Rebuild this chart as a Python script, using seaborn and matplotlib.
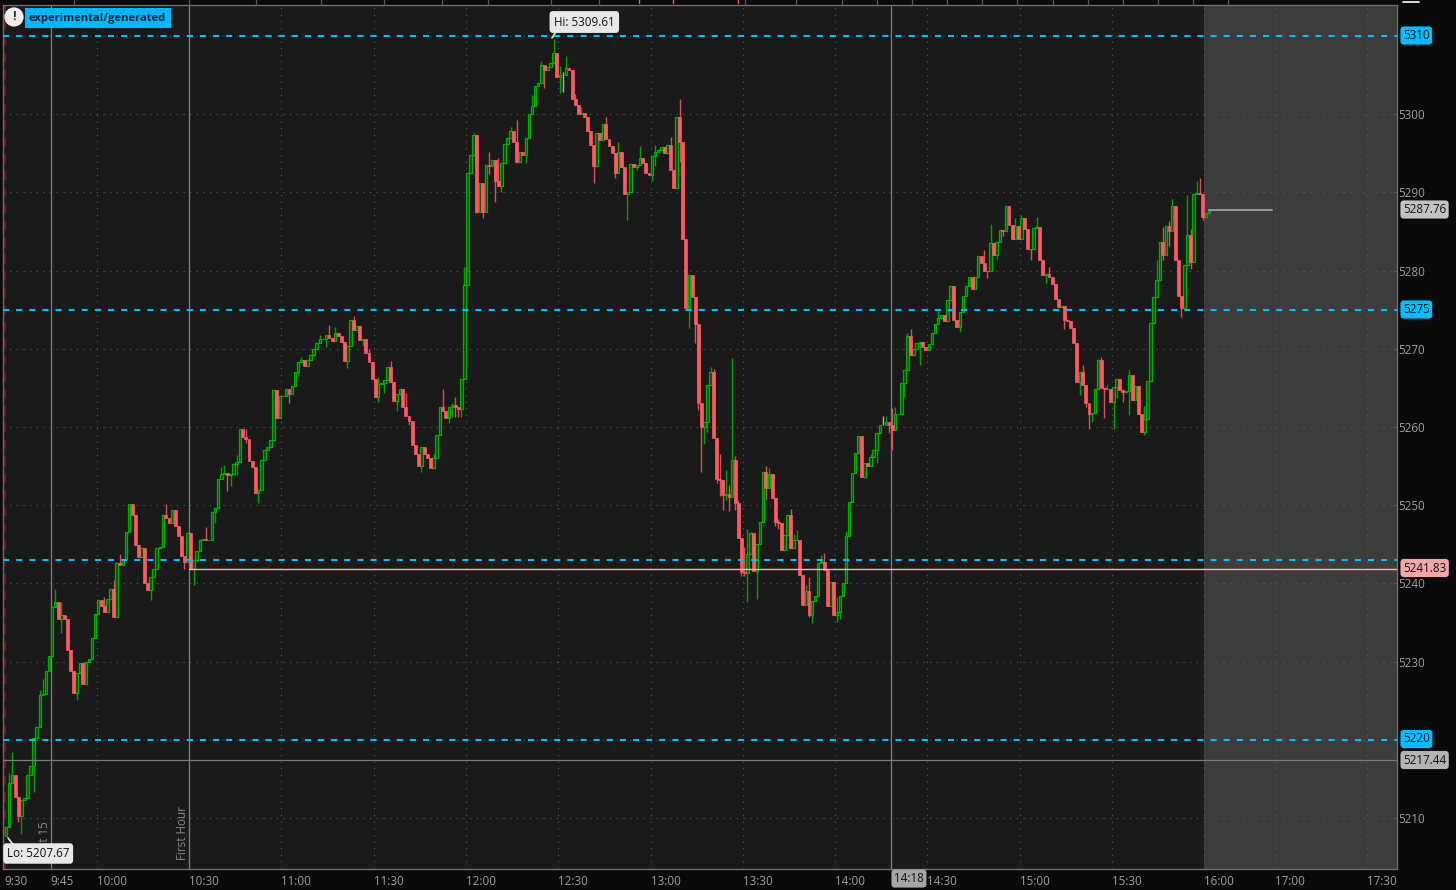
import numpy as np
import pandas as pd
import matplotlib
matplotlib.use('Agg')
import matplotlib.pyplot as plt
import seaborn as sns
from matplotlib.lines import Line2D

# Session candles (1 min bars, open = previous close)
first_open = 5207.67
closes = [
    5208.9, 5214.5, 5215.5, 5212.7, 5210.2, 5212.3, 5212.5, 5215.5, 5216.6, 5220.2,
    5221.6, 5225.7, 5225.8, 5228.8, 5230.7, 5237.0, 5237.6, 5235.4, 5236.0, 5235.5,
    5231.5, 5228.8, 5226.0, 5228.5, 5229.8, 5227.1, 5230.0, 5230.3, 5233.0, 5236.1,
    5237.9, 5237.1, 5236.4, 5238.0, 5239.3, 5235.7, 5242.6, 5242.4, 5243.1, 5246.6,
    5250.1, 5248.7, 5244.9, 5243.4, 5244.5, 5240.0, 5239.2, 5240.8, 5241.9, 5244.5,
    5244.6, 5248.7, 5248.3, 5247.7, 5249.4, 5247.3, 5246.0, 5243.5, 5242.8, 5246.5,
    5241.8, 5243.0, 5244.2, 5245.5, 5245.7, 5245.5, 5245.6, 5249.1, 5249.6, 5253.3,
    5254.0, 5254.1, 5253.9, 5254.0, 5255.3, 5255.5, 5259.7, 5258.7, 5258.5, 5255.7,
    5254.9, 5251.6, 5252.0, 5255.8, 5257.0, 5257.4, 5258.3, 5264.7, 5261.1, 5263.9,
    5264.0, 5264.9, 5264.2, 5265.2, 5267.0, 5268.3, 5268.6, 5267.8, 5268.6, 5269.2,
    5270.0, 5270.7, 5271.2, 5271.3, 5271.7, 5271.4, 5271.0, 5272.0, 5271.6, 5270.9,
    5268.4, 5270.4, 5273.7, 5272.4, 5272.9, 5271.1, 5271.2, 5269.4, 5268.3, 5266.2,
    5263.8, 5265.5, 5265.6, 5266.0, 5267.7, 5265.8, 5263.3, 5264.2, 5264.9, 5262.6,
    5261.4, 5260.8, 5257.7, 5256.5, 5255.0, 5257.5, 5256.5, 5256.0, 5254.7, 5256.0,
    5259.0, 5262.6, 5262.0, 5261.2, 5262.6, 5262.8, 5262.5, 5262.3, 5266.2, 5278.2,
    5292.5, 5294.8, 5297.3, 5287.5, 5291.2, 5287.5, 5293.5, 5293.4, 5294.1, 5291.4,
    5290.8, 5293.8, 5296.2, 5297.0, 5297.8, 5296.5, 5293.9, 5295.2, 5294.8, 5297.0,
    5300.0, 5301.0, 5303.6, 5304.0, 5306.3, 5305.7, 5306.0, 5306.5, 5307.8, 5304.7,
    5305.0, 5305.0, 5305.9, 5305.6, 5302.0, 5301.2, 5300.0, 5300.1, 5299.6, 5297.9,
    5296.0, 5293.4, 5297.6, 5296.7, 5298.8, 5296.8, 5295.9, 5295.0, 5292.5, 5295.2,
    5293.3, 5289.8, 5290.0, 5293.6, 5293.3, 5293.5, 5294.4, 5293.7, 5292.5, 5292.2,
    5294.6, 5295.2, 5295.4, 5295.8, 5295.0, 5296.0, 5292.9, 5290.5, 5299.7, 5296.4,
    5284.1, 5275.2, 5279.4, 5276.6, 5273.2, 5263.1, 5260.0, 5260.6, 5265.4, 5267.0,
    5258.6, 5253.3, 5253.2, 5251.3, 5251.4, 5251.1, 5255.8, 5250.3, 5245.8, 5241.5,
    5241.3, 5243.8, 5246.4, 5241.6, 5245.0, 5247.8, 5254.3, 5252.2, 5254.0, 5250.9,
    5247.9, 5247.7, 5244.3, 5246.2, 5248.8, 5244.5, 5245.5, 5245.6, 5241.1, 5237.2,
    5239.0, 5235.9, 5237.7, 5238.4, 5242.6, 5242.7, 5241.7, 5237.1, 5240.2, 5236.0,
    5236.4, 5238.4, 5240.1, 5246.0, 5250.4, 5254.1, 5256.7, 5258.8, 5253.6, 5255.4,
    5255.0, 5256.1, 5257.0, 5259.2, 5260.3, 5260.3, 5260.7, 5260.3, 5259.6, 5261.6,
    5261.7, 5265.6, 5267.3, 5271.6, 5269.2, 5270.0, 5270.8, 5270.9, 5270.2, 5269.9,
    5270.6, 5272.0, 5273.2, 5274.0, 5274.3, 5273.5, 5276.3, 5278.0, 5273.7, 5272.8,
    5274.7, 5276.7, 5278.0, 5279.2, 5277.6, 5279.2, 5281.9, 5281.0, 5280.0, 5279.9,
    5283.5, 5282.0, 5283.7, 5285.2, 5285.0, 5288.2, 5285.8, 5284.1, 5285.7, 5284.1,
    5286.7, 5285.3, 5282.8, 5282.7, 5285.5, 5285.6, 5281.3, 5279.4, 5279.5, 5279.2,
    5278.3, 5276.4, 5275.3, 5275.5, 5273.7, 5273.5, 5272.6, 5270.7, 5265.8, 5267.0,
    5265.4, 5263.1, 5261.6, 5261.8, 5264.8, 5268.6, 5265.0, 5264.8, 5264.9, 5263.2,
    5265.1, 5266.2, 5264.7, 5264.5, 5264.6, 5266.6, 5263.5, 5265.2, 5261.7, 5259.4,
    5261.0, 5265.9, 5273.3, 5276.6, 5278.8, 5283.7, 5282.0, 5285.7, 5285.0, 5288.2,
    5281.3, 5276.8, 5275.2, 5280.7, 5284.6, 5281.1, 5289.8, 5289.9, 5289.8, 5286.8,
    5287.4, 5287.76,
]

# Wicks that stick out of the body
high_bars = [1, 2, 11, 12, 16, 18, 32, 35, 37, 52, 65, 70, 71, 75, 77, 78, 96, 102, 105, 107,
             113, 118, 121, 125, 130, 139, 142, 145, 146, 149, 152, 157, 160, 164, 166, 171,
             174, 178, 180, 181, 182, 185, 187, 195, 199, 206, 211, 216, 219, 229, 230, 232,
             234, 235, 236, 237, 238, 240, 241, 242, 247, 248, 251, 255, 256, 257, 260, 261,
             265, 266, 270, 273, 281, 285, 286, 288, 289, 293, 294, 303, 318, 320, 328, 330,
             335, 339, 350, 356, 358, 365, 370, 374, 376, 378, 379, 384, 385, 387, 388]
high_vals = [5215.7, 5218.5, 5226.4, 5227.8, 5239.3, 5237.6, 5238.3, 5240.4, 5243.8, 5250.2,
             5247.2, 5254.9, 5255.1, 5256.4, 5259.8, 5259.8, 5269.0, 5271.8, 5273.0, 5272.8,
             5274.2, 5270.0, 5266.4, 5268.5, 5264.3, 5256.5, 5264.9, 5263.1, 5263.8, 5280.5,
             5297.6, 5295.2, 5294.4, 5298.3, 5299.3, 5302.5, 5306.8, 5309.61, 5306.1, 5305.4,
             5307.4, 5302.6, 5300.9, 5299.7, 5296.5, 5295.9, 5296.1, 5297.1, 5302.0, 5267.7,
             5267.4, 5256.5, 5254.5, 5252.6, 5268.8, 5256.3, 5250.7, 5244.7, 5247.0, 5246.6,
             5255.0, 5254.7, 5248.2, 5249.5, 5246.3, 5246.8, 5239.8, 5240.8, 5243.6, 5243.9,
             5238.3, 5246.7, 5256.6, 5261.4, 5261.4, 5262.4, 5262.5, 5272.0, 5272.5, 5274.8,
             5282.6, 5286.0, 5286.7, 5287.1, 5286.8, 5280.4, 5267.9, 5268.9, 5265.4, 5267.3,
             5262.7, 5281.4, 5285.6, 5286.4, 5289.2, 5289.7, 5285.3, 5291.4, 5291.9]
low_bars = [4, 5, 9, 18, 23, 47, 58, 61, 68, 72, 73, 75, 78, 82, 92, 95, 104, 111, 116, 121,
            123, 127, 131, 135, 144, 145, 146, 147, 148, 153, 155, 157, 159, 161, 169, 175,
            180, 181, 191, 198, 202, 205, 210, 211, 219, 222, 224, 225, 226, 227, 228, 231,
            232, 233, 234, 235, 237, 239, 240, 241, 244, 247, 250, 251, 261, 262, 270, 271,
            283, 287, 288, 292, 297, 310, 319, 322, 324, 333, 338, 344, 349, 351, 352, 353,
            357, 360, 361, 363, 365, 370, 376, 378, 382, 385, 389]
low_vals = [5209.5, 5208.0, 5213.3, 5233.7, 5225.1, 5237.9, 5241.9, 5239.8, 5247.7, 5251.8,
            5252.5, 5253.8, 5257.9, 5250.3, 5263.1, 5266.5, 5270.2, 5267.5, 5270.4, 5263.2,
            5264.3, 5262.1, 5260.2, 5254.2, 5260.5, 5261.3, 5261.3, 5261.3, 5261.3, 5287.3,
            5286.7, 5292.4, 5288.8, 5290.1, 5293.7, 5303.3, 5302.7, 5302.8, 5291.2, 5291.8,
            5286.5, 5292.8, 5291.4, 5293.4, 5293.9, 5272.7, 5270.8, 5262.2, 5254.2, 5257.8,
            5259.3, 5252.8, 5251.2, 5249.4, 5250.7, 5249.3, 5249.4, 5241.0, 5240.9, 5237.6,
            5238.0, 5250.7, 5247.3, 5247.0, 5235.7, 5234.9, 5235.1, 5235.4, 5255.4, 5259.2,
            5257.1, 5263.8, 5267.9, 5272.2, 5279.0, 5281.4, 5284.4, 5281.3, 5278.4, 5272.5,
            5264.1, 5262.5, 5259.8, 5260.7, 5261.2, 5259.7, 5263.7, 5263.2, 5261.5, 5259.0,
            5281.3, 5283.1, 5274.1, 5280.2, 5286.5]

# Study levels and axis labels
dashed_levels = [5310, 5275, 5243, 5220]
price_ticks = [5300, 5290, 5280, 5270, 5260, 5250, 5240, 5230, 5210]
grid_prices = [5310, 5300, 5290, 5280, 5270, 5260, 5250, 5240, 5230, 5220, 5210]
time_bars = [0, 15, 30, 60, 90, 120, 150, 180, 210, 240, 270, 300, 330, 360, 390, 413, 443]
time_labels = ['9:30', '9:45', '10:00', '10:30', '11:00', '11:30', '12:00', '12:30', '13:00',
               '13:30', '14:00', '14:30', '15:00', '15:30', '16:00', '17:00', '17:30']
session_end = 390
prev_close = 5287.76
pivot_line = 5241.83
base_line = 5217.44

W, H = 1456, 890
BG = '#1a1a1a'
OUTER = '#0a0a0a'
TXT = '#a0a0a0'
CYAN = '#00bfff'
UP_EDGE = '#00b000'
UP_FACE = '#0b4a12'
DOWN_FACE = '#ff5a64'
DOWN_WICK = '#d8505a'

sns.set_theme(style="dark")
plt.rcParams['font.family'] = ['Open Sans', 'DejaVu Sans']

df = pd.DataFrame({'close': closes})
df['bar'] = np.arange(len(df)) + 0.5
df['open'] = [first_open] + closes[:-1]
df['high'] = df[['open', 'close']].max(axis=1)
df['low'] = df[['open', 'close']].min(axis=1)
df.loc[high_bars, 'high'] = high_vals
df.loc[low_bars, 'low'] = low_vals
df['bottom'] = df[['open', 'close']].min(axis=1)
df['height'] = (df['close'] - df['open']).abs()


def fx(px):
    return px / W


def fy(px):
    return 1 - px / H


fig = plt.figure(figsize=(W / 100, H / 100), dpi=100, facecolor=OUTER)
ax = fig.add_axes([fx(2.5), 1 - 869 / H, (1397 - 2.5) / W, (869 - 5) / H], facecolor=BG)

# Axis range comes from the pixel spacing of the price and time scales
ax.set_ylim(5203.48, 5313.96)
xlim = (-0.6, 452.6)

ax.axvspan(session_end, xlim[1], color='#3c3c3c', lw=0, zorder=0)

# dotted grid
for p in grid_prices:
    ax.axhline(p, color='#5a5a5a', lw=0.8, ls=(0, (1, 5)), zorder=1)
for b in time_bars[1:]:
    ax.axvline(b, color='#5a5a5a', lw=0.8, ls=(0, (1, 5)), zorder=1)

# session markers
ax.axvline(0.2, color='#a00c0c', lw=1.1, ls=(0, (6, 5)), zorder=1.5)
for b in [15, 60, 288]:
    ax.axvline(b, color='#808080', lw=0.9, zorder=1.5)

up = df[df['close'] > df['open']]
down = df[df['close'] < df['open']]
flat = df[df['close'] == df['open']]

# wicks
ax.vlines(up['bar'], up['low'], up['high'], color='#00a000', lw=1.0, zorder=2)
ax.vlines(down['bar'], down['low'], down['high'], color=DOWN_WICK, lw=1.0, zorder=2)
ax.vlines(flat['bar'], flat['low'], flat['high'], color='#b0b0b0', lw=1.0, zorder=2)

# bodies
sns.barplot(x=up['bar'].values, y=up['height'].values, bottom=up['bottom'].values, native_scale=True,
            width=0.8, color=UP_FACE, saturation=1, edgecolor=UP_EDGE, linewidth=0.9,
            errorbar=None, ax=ax, zorder=3)
sns.barplot(x=down['bar'].values, y=down['height'].values, bottom=down['bottom'].values, native_scale=True,
            width=0.95, color=DOWN_FACE, saturation=1, edgecolor=DOWN_FACE, linewidth=0.5,
            errorbar=None, ax=ax, zorder=3)

ax.set_xlim(*xlim)
ax.set_ylim(5203.48, 5313.96)

# levels
for p in dashed_levels:
    ax.axhline(p, color=CYAN, lw=1.5, ls=(0, (2.9, 3.4)), zorder=4)
ax.plot([60, xlim[1]], [pivot_line, pivot_line], color='#f0b8b8', lw=1.0, zorder=4)
ax.axhline(base_line, color='#7a7a7a', lw=0.9, zorder=4)
ax.plot([391.5, 412], [prev_close, prev_close], color='#a0a0a0', lw=1.3, zorder=4)

ax.set_xlabel('')
ax.set_ylabel('')
ax.yaxis.tick_right()
ax.set_yticks(price_ticks)
ax.set_yticklabels([str(p) for p in price_ticks])
ax.set_xticks(time_bars)
ax.set_xticklabels(time_labels, ha='left')
ax.tick_params(axis='y', colors=TXT, labelsize=8.4, length=3, width=0.7, pad=1, color='#5a5a5a', direction='in')
ax.tick_params(axis='x', colors=TXT, labelsize=8.4, length=3, width=0.7, pad=4, color='#5a5a5a', direction='in')
for lab in ax.get_xticklabels():
    lab.set_ha('left')
for s in ax.spines.values():
    s.set_color('#6e6e6e')
    s.set_linewidth(1.0)

# strip above the plot
for px in [74, 189, 256, 321, 384, 442, 488, 551, 599, 745, 796, 842, 877, 912, 947, 982,
           1017, 1053, 1088, 1123, 1158, 1193, 1228]:
    fig.add_artist(Line2D([fx(px), fx(px)], [fy(0), fy(5)], color='#5a5a5a', lw=0.9))
for px in [639, 673, 738]:
    fig.add_artist(Line2D([fx(px), fx(px)], [fy(0), fy(3)], color='#ff5a64', lw=1.0))
fig.add_artist(Line2D([fx(1403), fx(1419)], [fy(1.5), fy(1.5)], color='#e8e8e8', lw=1.3))


def tag(px, py, s, fc, tc='#111111', size=8.4, pad=0.22):
    fig.text(fx(px), fy(py), s, ha='left', va='center', color=tc, fontsize=size, zorder=10,
             bbox=dict(boxstyle=f'round,pad={pad},rounding_size=0.3', fc=fc, ec='none'))


# price tags on the right scale
tag(1403, 35.5, '5310', CYAN)
tag(1403, 309.5, '5275', CYAN)
tag(1403, 739, '5220', CYAN)
tag(1403, 209.5, '5287.76', '#c2c2c2')
tag(1403, 568, '5241.83', '#f2a6a6')
tag(1403, 760, '5217.44', '#b4b4b4')
tag(894, 878.5, '14:18', '#a6a6a6')

# vertical study labels
fig.text(fx(44), fy(861), 'First 15', rotation=90, ha='center', va='bottom', color='#8a8a8a', fontsize=8.4, zorder=8)
fig.text(fx(182.5), fy(860), 'First Hour', rotation=90, ha='center', va='bottom', color='#8a8a8a', fontsize=8.4, zorder=8)

# Hi / Lo bubbles
fig.add_artist(Line2D([fx(552), fx(557)], [fy(38), fy(30)], color='#e6e6e6', lw=1.2, zorder=9))
fig.add_artist(Line2D([fx(8), fx(15)], [fy(838), fy(847)], color='#e6e6e6', lw=1.2, zorder=9))
tag(554, 22, 'Hi: 5309.61', '#e8e8e8', pad=0.38)
tag(7, 853.5, 'Lo: 5207.67', '#e8e8e8', pad=0.32)

# Warning badge
fig.text(fx(14), fy(17), '!', ha='center', va='center', color='#222222', fontsize=9, fontweight='bold', zorder=10,
         bbox=dict(boxstyle='circle,pad=0.25', fc='#eeeeee', ec='none'))
fig.text(fx(29), fy(18), 'experimental/generated', ha='left', va='center', color='#10222e', fontsize=8.1,
         fontweight='bold', zorder=10, bbox=dict(boxstyle='square,pad=0.38', fc='#00b8ff', ec='none'))

fig.savefig('out.png', dpi=100, facecolor=OUTER)
